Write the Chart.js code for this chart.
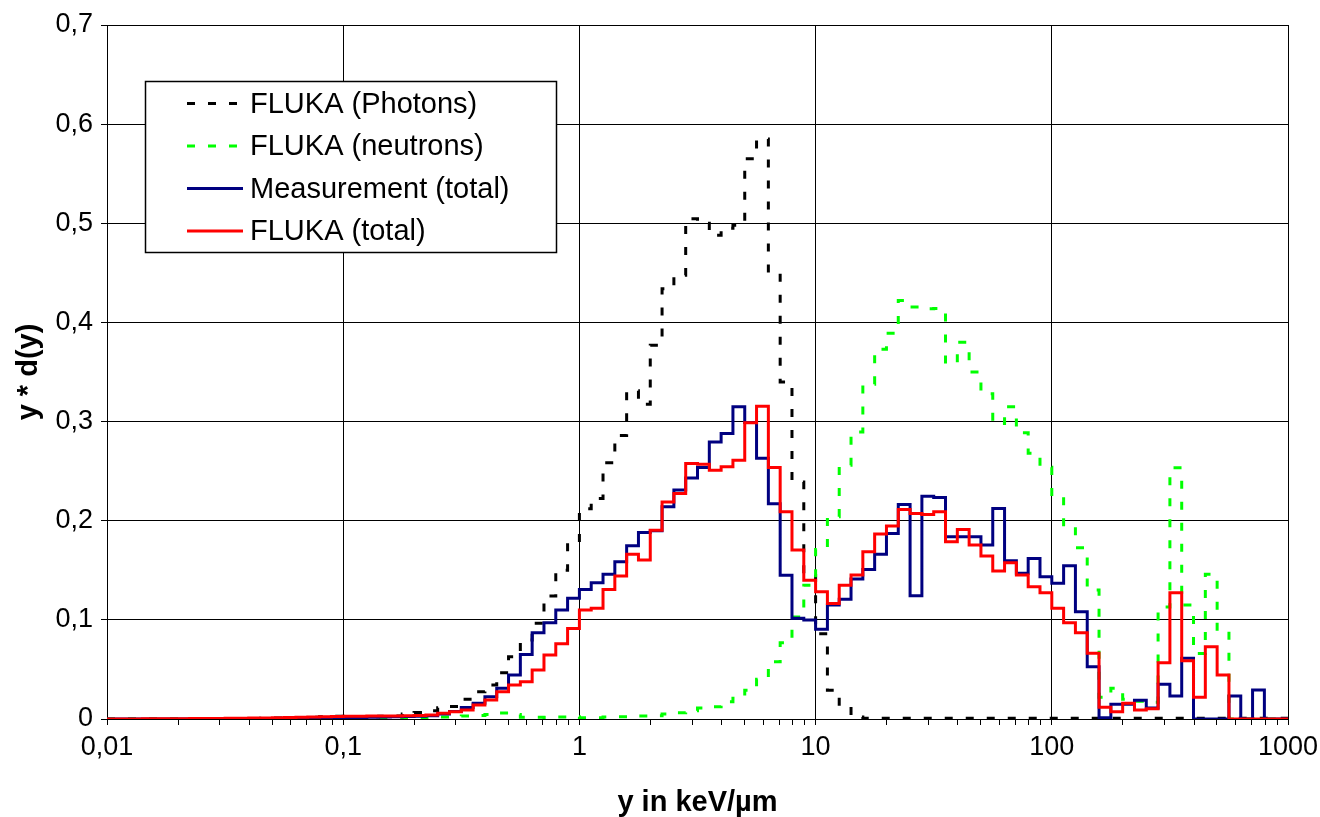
<!DOCTYPE html>
<html>
<head>
<meta charset="utf-8">
<script src="https://cdn.jsdelivr.net/npm/chart.js@4.4.1/dist/chart.umd.min.js"></script>
<style>
html,body{margin:0;padding:0;background:#fff;}
#wrap{width:1320px;height:817px;position:relative;}
canvas{display:block;}
</style>
</head>
<body>
<div id="wrap"><canvas id="c" width="1320" height="817"></canvas></div>
<script>
// ---------- data (20 log bins per decade, from 0.01 to 1000) ----------
const binsPerDecade = 20;
const firstEdgeExponent = -2;   // first bin edge = 10^-2
const binCount = 100;

const seriesLabels = ['FLUKA (Photons)', 'FLUKA (neutrons)', 'Measurement (total)', 'FLUKA (total)'];

const xTickValues = [0.01, 0.1, 1, 10, 100, 1000];
const xTickLabels = ['0,01', '0,1', '1', '10', '100', '1000'];
const yTickValues = [0, 0.1, 0.2, 0.3, 0.4, 0.5, 0.6, 0.7];
const yTickLabels = ['0', '0,1', '0,2', '0,3', '0,4', '0,5', '0,6', '0,7'];
const xTitle = 'y in keV/µm';
const yTitle = 'y * d(y)';

// FLUKA (Photons)
const photons = [
  0, 0, 0, 0, 0, 0, 0, 0, 0.0002, 0.0003, 0.0004, 0.0005, 0.0006, 0.0008, 0.001, 0.0012, 0.0015, 0.0018, 0.0022, 0.0028,
  0.002, 0.0022, 0.0023, 0.0028, 0.003, 0.005, 0.0065, 0.0084, 0.0114, 0.0125, 0.02, 0.0275, 0.0343, 0.0467, 0.0628, 0.0796, 0.0965, 0.124, 0.15, 0.178,
  0.212, 0.2225, 0.2584, 0.286, 0.331, 0.3175, 0.377, 0.434, 0.4476, 0.5045, 0.50, 0.488, 0.495, 0.498, 0.565, 0.585, 0.45, 0.34, 0.239, 0.145,
  0.086, 0.029, 0.0124, 0.002, 0.0008, 0.0008, 0.0008, 0.0008, 0.0008, 0.0008, 0.0008, 0.0008, 0.0008, 0.0008, 0.0008, 0.0008, 0.0008, 0.0008, 0.0008, 0.0008,
  0.0008, 0.0008, 0.0008, 0.0008, 0.0008, 0.0008, 0.0008, 0.0008, 0.0008, 0.0008, 0.0008, 0.0008, 0.0008, 0.0008, 0.0008, 0.0008, 0.0008, 0.0008, 0.0008, 0.0008
];
// FLUKA (neutrons)
const neutrons = [
  0, 0, 0, 0, 0, 0, 0, 0, 0, 0, 0, 0, 0, 0, 0.0001, 0.0001, 0.0002, 0.0002, 0.0003, 0.0003,
  0.0003, 0.0004, 0.0005, 0.0006, 0.0008, 0.001, 0.0013, 0.0016, 0.002, 0.0023, 0.003, 0.0035, 0.0045, 0.006, 0.0046, 0.0017, 0.0017, 0.0016, 0.002, 0.0023,
  0.0013, 0.0013, 0.002, 0.0023, 0.0023, 0.003, 0.0034, 0.005, 0.0064, 0.0084, 0.011, 0.0124, 0.0175, 0.021, 0.029, 0.04, 0.0578, 0.077, 0.103, 0.135,
  0.171, 0.204, 0.256, 0.2896, 0.3377, 0.373, 0.389, 0.422, 0.4156, 0.4137, 0.414, 0.3586, 0.380, 0.35, 0.328, 0.298, 0.315, 0.2886, 0.268, 0.254,
  0.224, 0.194, 0.1727, 0.130, 0.022, 0.031, 0.020, 0.018, 0.017, 0.113, 0.2533, 0.115, 0.066, 0.146, 0.0887, 0, 0, 0, 0, 0
];
// Measurement (total)
const measurement = [
  0, 0, 0, 0, 0, 0, 0, 0, 0, 0, 0.0002, 0.0003, 0.0004, 0.0005, 0.0006, 0.0008, 0.001, 0.0011, 0.0012, 0.0014,
  0.0015, 0.0016, 0.0018, 0.002, 0.0022, 0.0025, 0.0028, 0.0032, 0.005, 0.0075, 0.0115, 0.0158, 0.0225, 0.031, 0.0444, 0.065, 0.087, 0.097, 0.1099, 0.1217,
  0.1307, 0.1374, 0.146, 0.1586, 0.1747, 0.188, 0.19, 0.214, 0.231, 0.243, 0.2537, 0.2795, 0.288, 0.315, 0.299, 0.263, 0.217, 0.145, 0.1015, 0.0998,
  0.0904, 0.1149, 0.1207, 0.1411, 0.1509, 0.1663, 0.1872, 0.2164, 0.1243, 0.2248, 0.2235, 0.1838, 0.1838, 0.1838, 0.1754, 0.2124, 0.1596, 0.1469, 0.162, 0.1435,
  0.1368, 0.1546, 0.1082, 0.0527, 0.0013, 0.0148, 0.0148, 0.019, 0.011, 0.035, 0.0232, 0.0612, 0, 0, 0, 0.0232, 0, 0.0292, 0, 0
];
// FLUKA (total)
const flukaTotal = [
  0.0001, 0.0001, 0.0001, 0.0002, 0.0002, 0.0003, 0.0003, 0.0004, 0.0005, 0.0006, 0.0007, 0.0008, 0.001, 0.0011, 0.0013, 0.0015, 0.0017, 0.0019, 0.0022, 0.0025,
  0.0027, 0.0028, 0.0029, 0.003, 0.0031, 0.0033, 0.0035, 0.004, 0.0057, 0.0074, 0.0091, 0.0141, 0.0192, 0.0275, 0.0343, 0.0376, 0.0494, 0.0645, 0.076, 0.0914,
  0.1099, 0.1116, 0.1307, 0.1442, 0.1663, 0.1603, 0.1905, 0.219, 0.2275, 0.2577, 0.257, 0.251, 0.2545, 0.261, 0.2987, 0.3155, 0.2537, 0.209, 0.1704, 0.140,
  0.1283, 0.1166, 0.135, 0.1452, 0.1687, 0.1865, 0.1946, 0.2114, 0.2073, 0.2063, 0.209, 0.1787, 0.1912, 0.1754, 0.1643, 0.1492, 0.1576, 0.1452, 0.1334, 0.1273,
  0.1116, 0.0971, 0.087, 0.0662, 0.0118, 0.0074, 0.0158, 0.0091, 0.0104, 0.0568, 0.1273, 0.0588, 0.0219, 0.0729, 0.0444, 0, 0, 0, 0, 0
];

// ---------- helpers ----------
const binEdges = Array.from({length: binCount + 1}, (_, i) => Math.pow(10, firstEdgeExponent + i / binsPerDecade));
function toSteps(values) {
  const pts = values.map((v, i) => ({x: binEdges[i], y: v}));
  pts.push({x: binEdges[values.length], y: values[values.length - 1]});
  return pts;
}
const minorTicks = [];
for (let e = -2; e <= 2; e++) for (let m = 1; m <= 9; m++) minorTicks.push(m * Math.pow(10, e));
minorTicks.push(1000);
function decadeIndex(v) {
  return xTickValues.findIndex(t => Math.abs(Math.log10(t) - Math.log10(v)) < 1e-6);
}

Chart.defaults.font.family = '"Liberation Sans", Arial, sans-serif';
Chart.defaults.color = '#000';

const legendPlugin = {
  id: 'boxLegend',
  afterDatasetsDraw(chart) {
    const ctx = chart.ctx;
    ctx.save();
    const x0 = 145, y0 = 81, w = 411, h = 171;
    ctx.fillStyle = '#fff';
    ctx.fillRect(x0, y0, w, h);
    ctx.strokeStyle = '#000';
    ctx.lineWidth = 1.5;
    ctx.strokeRect(x0 + 0.5, y0 + 0.5, w, h);
    chart.data.datasets.forEach((ds, i) => {
      const y = 103.5 + i * 42.5;
      ctx.beginPath();
      ctx.setLineDash(ds.borderDash || []);
      ctx.lineDashOffset = 0;
      ctx.lineWidth = 3;
      ctx.strokeStyle = ds.borderColor;
      ctx.moveTo(187, y);
      ctx.lineTo(243, y);
      ctx.stroke();
      ctx.setLineDash([]);
      ctx.fillStyle = '#000';
      ctx.font = '29px "Liberation Sans", Arial, sans-serif';
      ctx.textBaseline = 'middle';
      ctx.textAlign = 'left';
      ctx.fillText(ds.label, 250, y + 1);
    });
    ctx.restore();
  }
};

const dsCommon = {pointRadius: 0, pointHoverRadius: 0, borderWidth: 3, stepped: true, fill: false, tension: 0, borderCapStyle: 'butt', borderJoinStyle: 'miter'};

new Chart(document.getElementById('c'), {
  type: 'line',
  data: {
    datasets: [
      Object.assign({label: seriesLabels[0], data: toSteps(photons), borderColor: '#000000', borderDash: [8, 13], order: 4}, dsCommon),
      Object.assign({label: seriesLabels[1], data: toSteps(neutrons), borderColor: '#00ff00', borderDash: [8, 13], order: 3}, dsCommon),
      Object.assign({label: seriesLabels[2], data: toSteps(measurement), borderColor: '#000080', order: 2}, dsCommon),
      Object.assign({label: seriesLabels[3], data: toSteps(flukaTotal), borderColor: '#ff0000', order: 1}, dsCommon)
    ]
  },
  options: {
    responsive: false,
    animation: false,
    devicePixelRatio: 1,
    layout: {padding: {left: 0, right: 32, top: 25, bottom: 0}},
    plugins: {legend: {display: false}, tooltip: {enabled: false}, title: {display: false}},
    scales: {
      x: {
        type: 'logarithmic',
        min: 0.01, max: 1000,
        afterBuildTicks: s => { s.ticks = minorTicks.map(v => ({value: v})); },
        afterFit: s => { s.height = 98; s.paddingRight = 0; s.paddingLeft = 0; },
        ticks: {
          autoSkip: false, maxRotation: 0, minRotation: 0, padding: 6,
          font: {size: 27},
          callback: v => { const i = decadeIndex(v); return i >= 0 ? xTickLabels[i] : ''; }
        },
        grid: {
          color: c => (c.tick && decadeIndex(c.tick.value) >= 0) ? '#000' : 'rgba(0,0,0,0)',
          tickColor: '#000', tickLength: 6, lineWidth: 1, drawOnChartArea: true
        },
        border: {display: true, color: '#000', width: 1},
        title: {display: true, text: xTitle, font: {size: 29, weight: 'bold'}, padding: {top: 0, bottom: -3}}
      },
      y: {
        type: 'linear',
        min: 0, max: 0.7,
        afterBuildTicks: s => { s.ticks = yTickValues.map(v => ({value: v})); },
        afterFit: s => { s.width = 107; },
        ticks: {
          padding: 8, font: {size: 27},
          callback: v => { const i = yTickValues.findIndex(t => Math.abs(t - v) < 1e-9); return i >= 0 ? yTickLabels[i] : ''; }
        },
        grid: {color: '#000', tickColor: '#000', tickLength: 6, lineWidth: 1},
        border: {display: true, color: '#000', width: 1},
        title: {display: true, text: yTitle, font: {size: 29, weight: 'bold'}, padding: {top: 12, bottom: 0}}
      }
    }
  },
  plugins: [legendPlugin]
});
</script>
</body>
</html>
